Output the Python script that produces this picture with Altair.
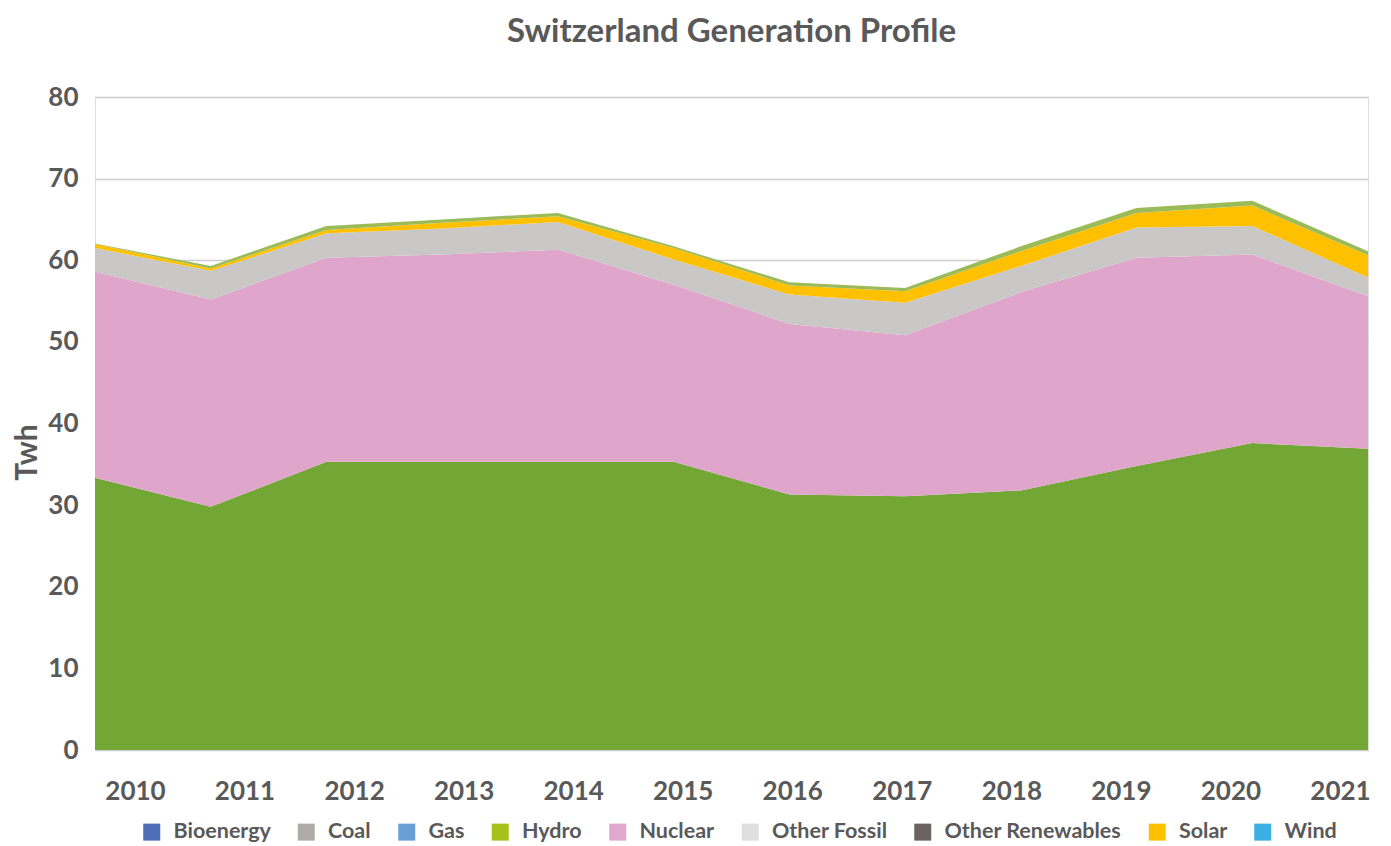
import altair as alt
import pandas as pd

years = list(range(2010, 2022))
hydro = [33.35, 29.8, 35.3, 35.3, 35.3, 35.3, 31.3, 31.1, 31.8, 34.8, 37.6, 36.9]
nuclear = [25.25, 25.4, 25.0, 25.4, 26.0, 21.7, 20.9, 19.7, 24.3, 25.5, 23.1, 18.7]
other_fossil = [2.9, 3.5, 3.0, 3.2, 3.4, 3.1, 3.6, 4.0, 3.2, 3.7, 3.5, 2.3]
solar = [0.5, 0.3, 0.4, 0.7, 0.7, 1.4, 1.1, 1.4, 1.8, 1.8, 2.5, 2.7]
other_ren = [0.05, 0.3, 0.5, 0.4, 0.4, 0.2, 0.4, 0.4, 0.6, 0.6, 0.6, 0.5]

area_series = ["Hydro", "Nuclear", "Other Fossil", "Solar", "Other Renewables"]
area_colors = ["#72A736", "#E0A5CB", "#C9C8C6", "#FFC000", "#9BBB59"]

legend_labels = ["Bioenergy", "Coal", "Gas", "Hydro", "Nuclear", "Other Fossil",
                 "Other Renewables", "Solar", "Wind"]
legend_colors = ["#4F6EB8", "#AFABAB", "#6A9FD6", "#A5C21A", "#E2A7CC", "#E0DFDF",
                 "#6B6361", "#FFC000", "#3BAEE3"]

rows = []
for i, (name, vals) in enumerate(zip(area_series, [hydro, nuclear, other_fossil, solar, other_ren])):
    for y, v in zip(years, vals):
        rows.append({"year": y, "series": name, "value": v, "idx": i})
df = pd.DataFrame(rows)
df_years = pd.DataFrame({"year": years})
df_leg = pd.DataFrame({"source": legend_labels})

FONT = "Lato"
TXT = "#595959"
W, H = 1273, 653

area = alt.Chart(df).mark_area(opacity=1).encode(
    x=alt.X("year:Q", scale=alt.Scale(domain=[2010, 2021], nice=False, zero=False), axis=None),
    y=alt.Y("value:Q", stack="zero",
            scale=alt.Scale(domain=[0, 80], nice=False),
            axis=alt.Axis(values=list(range(0, 81, 10)), title="Twh", grid=True,
                          gridColor="#CCCCCC", gridWidth=1.3, domain=False, ticks=False,
                          tickSize=0, labelPadding=17, labelFont=FONT, labelFontSize=26,
                          labelFontWeight="bold", labelColor=TXT, titleFont=FONT,
                          titleFontSize=30, titleFontWeight="bold", titleColor=TXT,
                          titleAngle=270, titleX=-68, titleY=355, titleAlign="center",
                          titleBaseline="middle")),
    color=alt.Color("series:N", scale=alt.Scale(domain=area_series, range=area_colors), legend=None),
    order=alt.Order("idx:Q", sort="ascending"),
)

xlabels = alt.Chart(df_years).mark_point(opacity=0).encode(
    x=alt.X("year:Q", scale=alt.Scale(domain=[2009.635, 2021.256], nice=False, zero=False),
            axis=alt.Axis(values=years, format="d", title=None, grid=False, domain=False,
                          ticks=False, tickSize=0, labelPadding=28, labelFont=FONT,
                          labelFontSize=26, labelFontWeight="bold", labelColor=TXT,
                          labelFlush=False, labelOverlap=False)),
    y=alt.value(0),
)

leg = alt.Chart(df_leg).mark_square(opacity=0).encode(
    x=alt.value(0), y=alt.value(0),
    color=alt.Color("source:N", scale=alt.Scale(domain=legend_labels, range=legend_colors),
                    legend=alt.Legend(title=None, orient="none", direction="horizontal",
                                      legendX=46, legendY=724, columns=9,
                                      symbolType="square", symbolSize=289, symbolOpacity=1,
                                      symbolStrokeWidth=0, labelFont=FONT, labelFontSize=21.5,
                                      labelFontWeight="bold", labelColor=TXT, labelOffset=11,
                                      columnPadding=24.5, padding=0, labelLimit=400)),
)

chart = alt.layer(area, xlabels, leg).resolve_scale(
    x="independent", color="independent"
).properties(
    width=W, height=H,
    title=alt.TitleParams("Switzerland Generation Profile", font=FONT, fontSize=33,
                          fontWeight="bold", color=TXT, offset=35, anchor="middle"),
    autosize=alt.AutoSizeParams(type="none"),
    padding={"left": 87, "top": 89, "right": 15, "bottom": 96},
).configure_view(stroke=None).configure(background="white")

chart.save("out.html", embed_options={"renderer": "svg", "actions": False})
